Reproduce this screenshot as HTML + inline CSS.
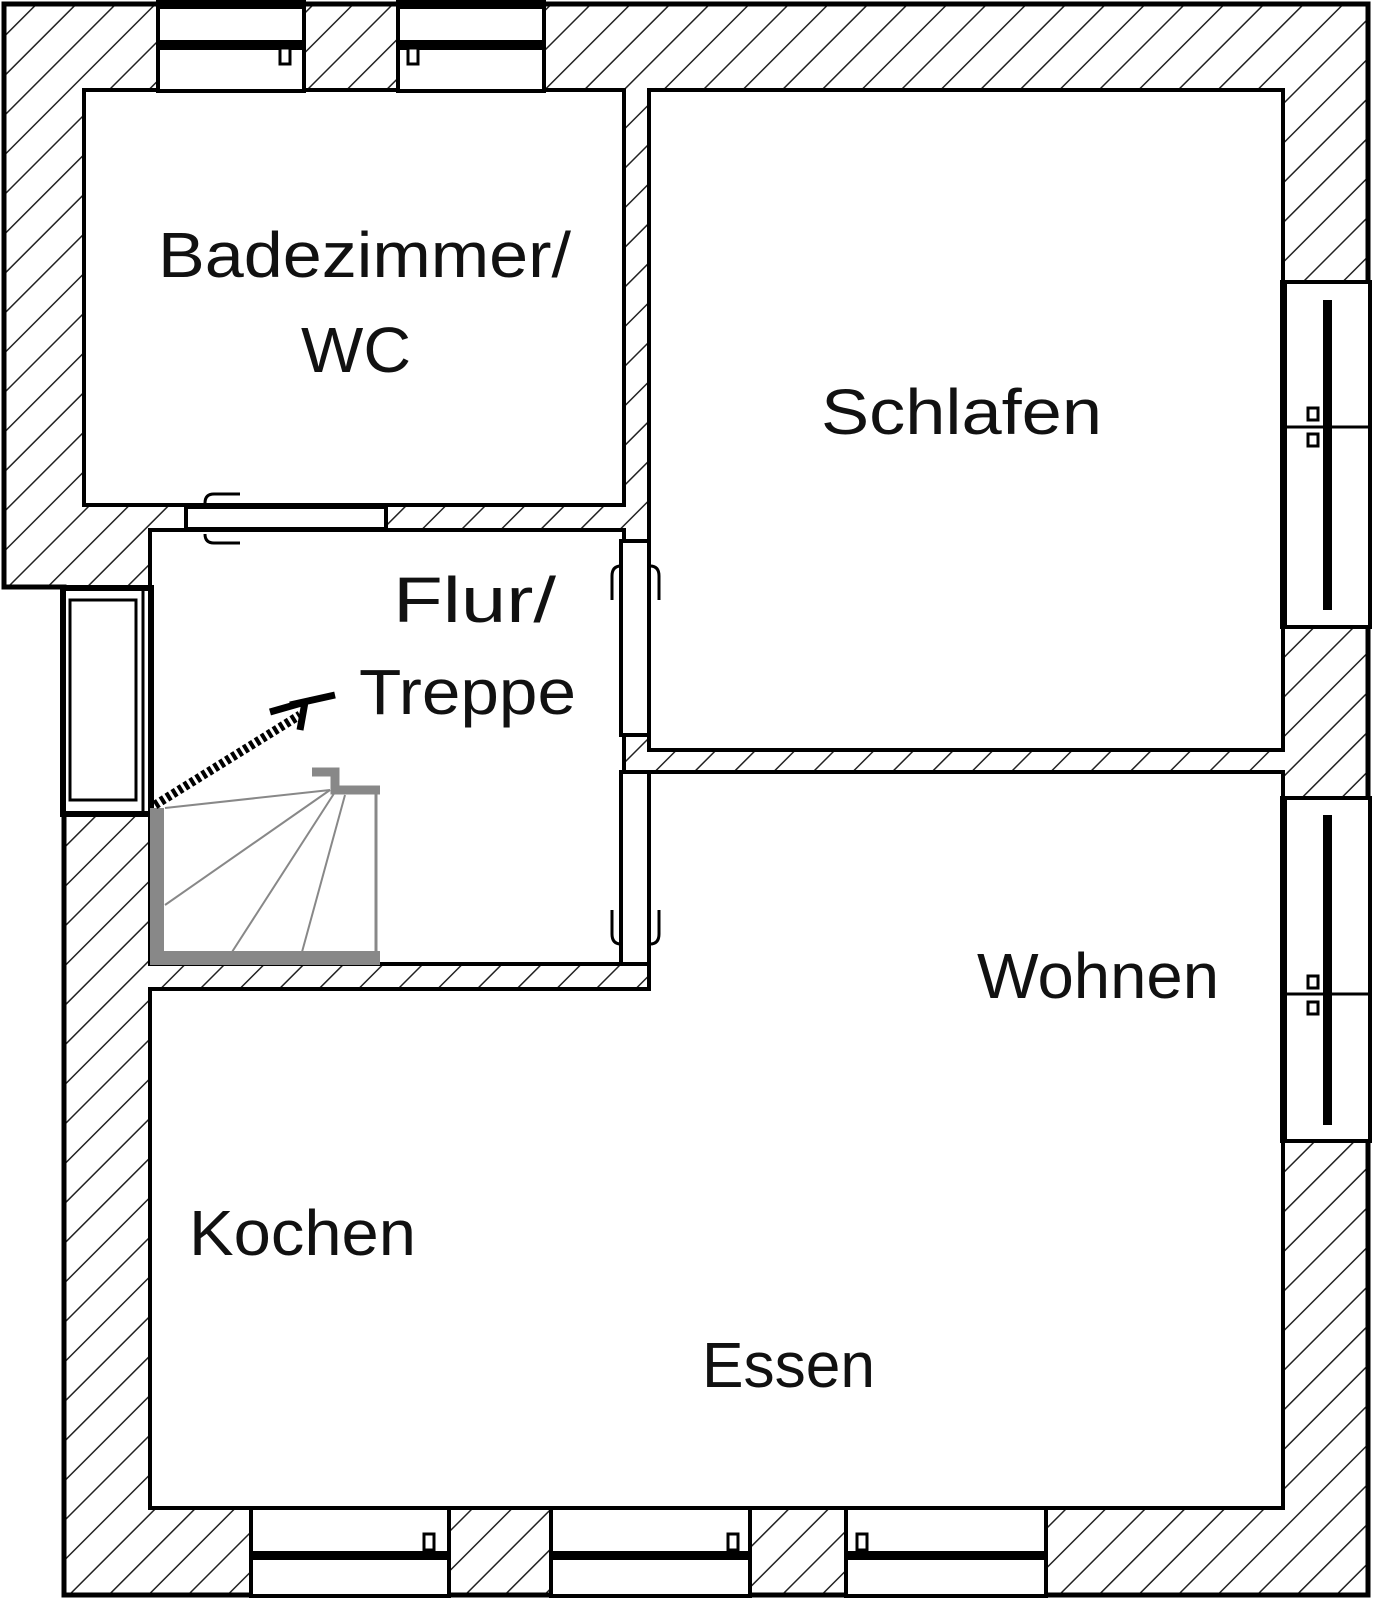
<!DOCTYPE html>
<html><head><meta charset="utf-8"><style>
html,body{margin:0;padding:0;background:#fff;}
svg{display:block;}
text{font-family:"Liberation Sans",sans-serif;font-size:64px;fill:#111;}
</style></head><body>
<svg width="1374" height="1600" viewBox="0 0 1374 1600" xmlns="http://www.w3.org/2000/svg">
<defs>
<pattern id="h" patternUnits="userSpaceOnUse" width="28" height="28" patternTransform="rotate(45)">
<rect width="28" height="28" fill="#fff"/>
<line x1="0" y1="0" x2="0" y2="28" stroke="#222" stroke-width="3"/>
</pattern>
</defs>
<!-- outer walls -->
<polygon points="4,4 1368,4 1368,1595 64,1595 64,587 4,587" fill="url(#h)" stroke="#000" stroke-width="5"/>
<!-- rooms -->
<g fill="#fff" stroke="#000" stroke-width="4">
<rect x="84" y="90" width="540" height="415"/>
<rect x="649" y="90" width="634" height="660"/>
<rect x="150" y="530" width="474" height="434"/>
<polygon points="649,772 1283,772 1283,1508 150,1508 150,989 649,989"/>
</g>
<!-- top windows -->
<g stroke="#000" fill="#fff">
<rect x="158" y="2" width="146" height="89" stroke-width="4"/>
<rect x="158" y="0" width="146" height="9" fill="#000" stroke="none"/>
<rect x="158" y="40" width="146" height="10" fill="#000" stroke="none"/>
<rect x="280" y="48" width="10" height="16" stroke-width="3"/>
<rect x="398" y="2" width="146" height="89" stroke-width="4"/>
<rect x="398" y="0" width="146" height="9" fill="#000" stroke="none"/>
<rect x="398" y="40" width="146" height="10" fill="#000" stroke="none"/>
<rect x="408" y="48" width="10" height="16" stroke-width="3"/>
</g>
<!-- bottom windows -->
<g stroke="#000" fill="#fff">
<rect x="251" y="1508" width="198" height="88" stroke-width="4"/>
<rect x="251" y="1551" width="198" height="9" fill="#000" stroke="none"/>
<rect x="424" y="1534" width="10" height="16" stroke-width="3"/>
<rect x="551" y="1508" width="199" height="88" stroke-width="4"/>
<rect x="551" y="1551" width="199" height="9" fill="#000" stroke="none"/>
<rect x="728" y="1534" width="10" height="16" stroke-width="3"/>
<rect x="846" y="1508" width="200" height="88" stroke-width="4"/>
<rect x="846" y="1551" width="200" height="9" fill="#000" stroke="none"/>
<rect x="857" y="1534" width="10" height="16" stroke-width="3"/>
</g>
<!-- right windows -->
<g stroke="#000" fill="#fff">
<rect x="1282" y="282" width="88" height="345" stroke-width="4"/>
<rect x="1280" y="282" width="7" height="345" fill="#000" stroke="none"/>
<rect x="1323" y="300" width="9" height="310" fill="#000" stroke="none"/>
<line x1="1282" y1="427" x2="1370" y2="427" stroke-width="3"/>
<rect x="1308" y="408" width="10" height="12" stroke-width="3"/>
<rect x="1308" y="434" width="10" height="12" stroke-width="3"/>
<rect x="1282" y="798" width="88" height="343" stroke-width="4"/>
<rect x="1280" y="798" width="7" height="343" fill="#000" stroke="none"/>
<rect x="1323" y="815" width="9" height="310" fill="#000" stroke="none"/>
<line x1="1282" y1="994" x2="1370" y2="994" stroke-width="3"/>
<rect x="1308" y="976" width="10" height="12" stroke-width="3"/>
<rect x="1308" y="1002" width="10" height="12" stroke-width="3"/>
</g>
<!-- left window -->
<g stroke="#000" fill="#fff">
<rect x="63" y="588" width="88" height="226" stroke-width="6"/>
<rect x="70" y="600" width="66" height="200" stroke-width="3"/>
<line x1="143" y1="590" x2="143" y2="812" stroke-width="3"/>
</g>
<!-- doors -->
<g stroke="#000" fill="#fff" stroke-width="4">
<rect x="186" y="507" width="200" height="22"/>
<path d="M240 494 H214 Q205 494 205 503 M240 543 H214 Q205 543 205 534" fill="none" stroke-width="3"/>
<rect x="621" y="541" width="28" height="194"/>
<path d="M612 600 V576 Q612 566 621 566 M659 600 V576 Q659 566 650 566" fill="none" stroke-width="3"/>
<rect x="621" y="772" width="28" height="192"/>
<path d="M612 910 V934 Q612 944 621 944 M659 910 V934 Q659 944 650 944" fill="none" stroke-width="3"/>
</g>
<!-- stairs -->
<g stroke="#888" fill="none">
<path d="M157 808 V958 H380" stroke-width="14"/>
<line x1="376" y1="792" x2="376" y2="955" stroke-width="3"/>
<path d="M312 772 H335 V790 H380" stroke-width="9"/>
<g stroke-width="2">
<line x1="330" y1="790" x2="165" y2="808"/>
<line x1="330" y1="790" x2="165" y2="905"/>
<line x1="335" y1="792" x2="232" y2="952"/>
<line x1="345" y1="795" x2="302" y2="952"/>
</g>
</g>
<path d="M155 805 L300 715" stroke="#000" stroke-width="9" stroke-dasharray="4 3"/>
<path d="M270 712 L305 702 L300 730 M290 705 L335 695" stroke="#000" stroke-width="7" fill="none"/>
<!-- labels -->
<text x="158" y="277" textLength="413" lengthAdjust="spacingAndGlyphs">Badezimmer/</text>
<text x="301" y="372" textLength="110" lengthAdjust="spacingAndGlyphs">WC</text>
<text x="821" y="434" textLength="281" lengthAdjust="spacingAndGlyphs">Schlafen</text>
<text x="393" y="622" textLength="163" lengthAdjust="spacingAndGlyphs">Flur/</text>
<text x="359" y="714" textLength="217" lengthAdjust="spacingAndGlyphs">Treppe</text>
<text x="977" y="998" textLength="242" lengthAdjust="spacingAndGlyphs">Wohnen</text>
<text x="189" y="1255" textLength="227" lengthAdjust="spacingAndGlyphs">Kochen</text>
<text x="702" y="1387" textLength="173" lengthAdjust="spacingAndGlyphs">Essen</text>
</svg>
</body></html>
